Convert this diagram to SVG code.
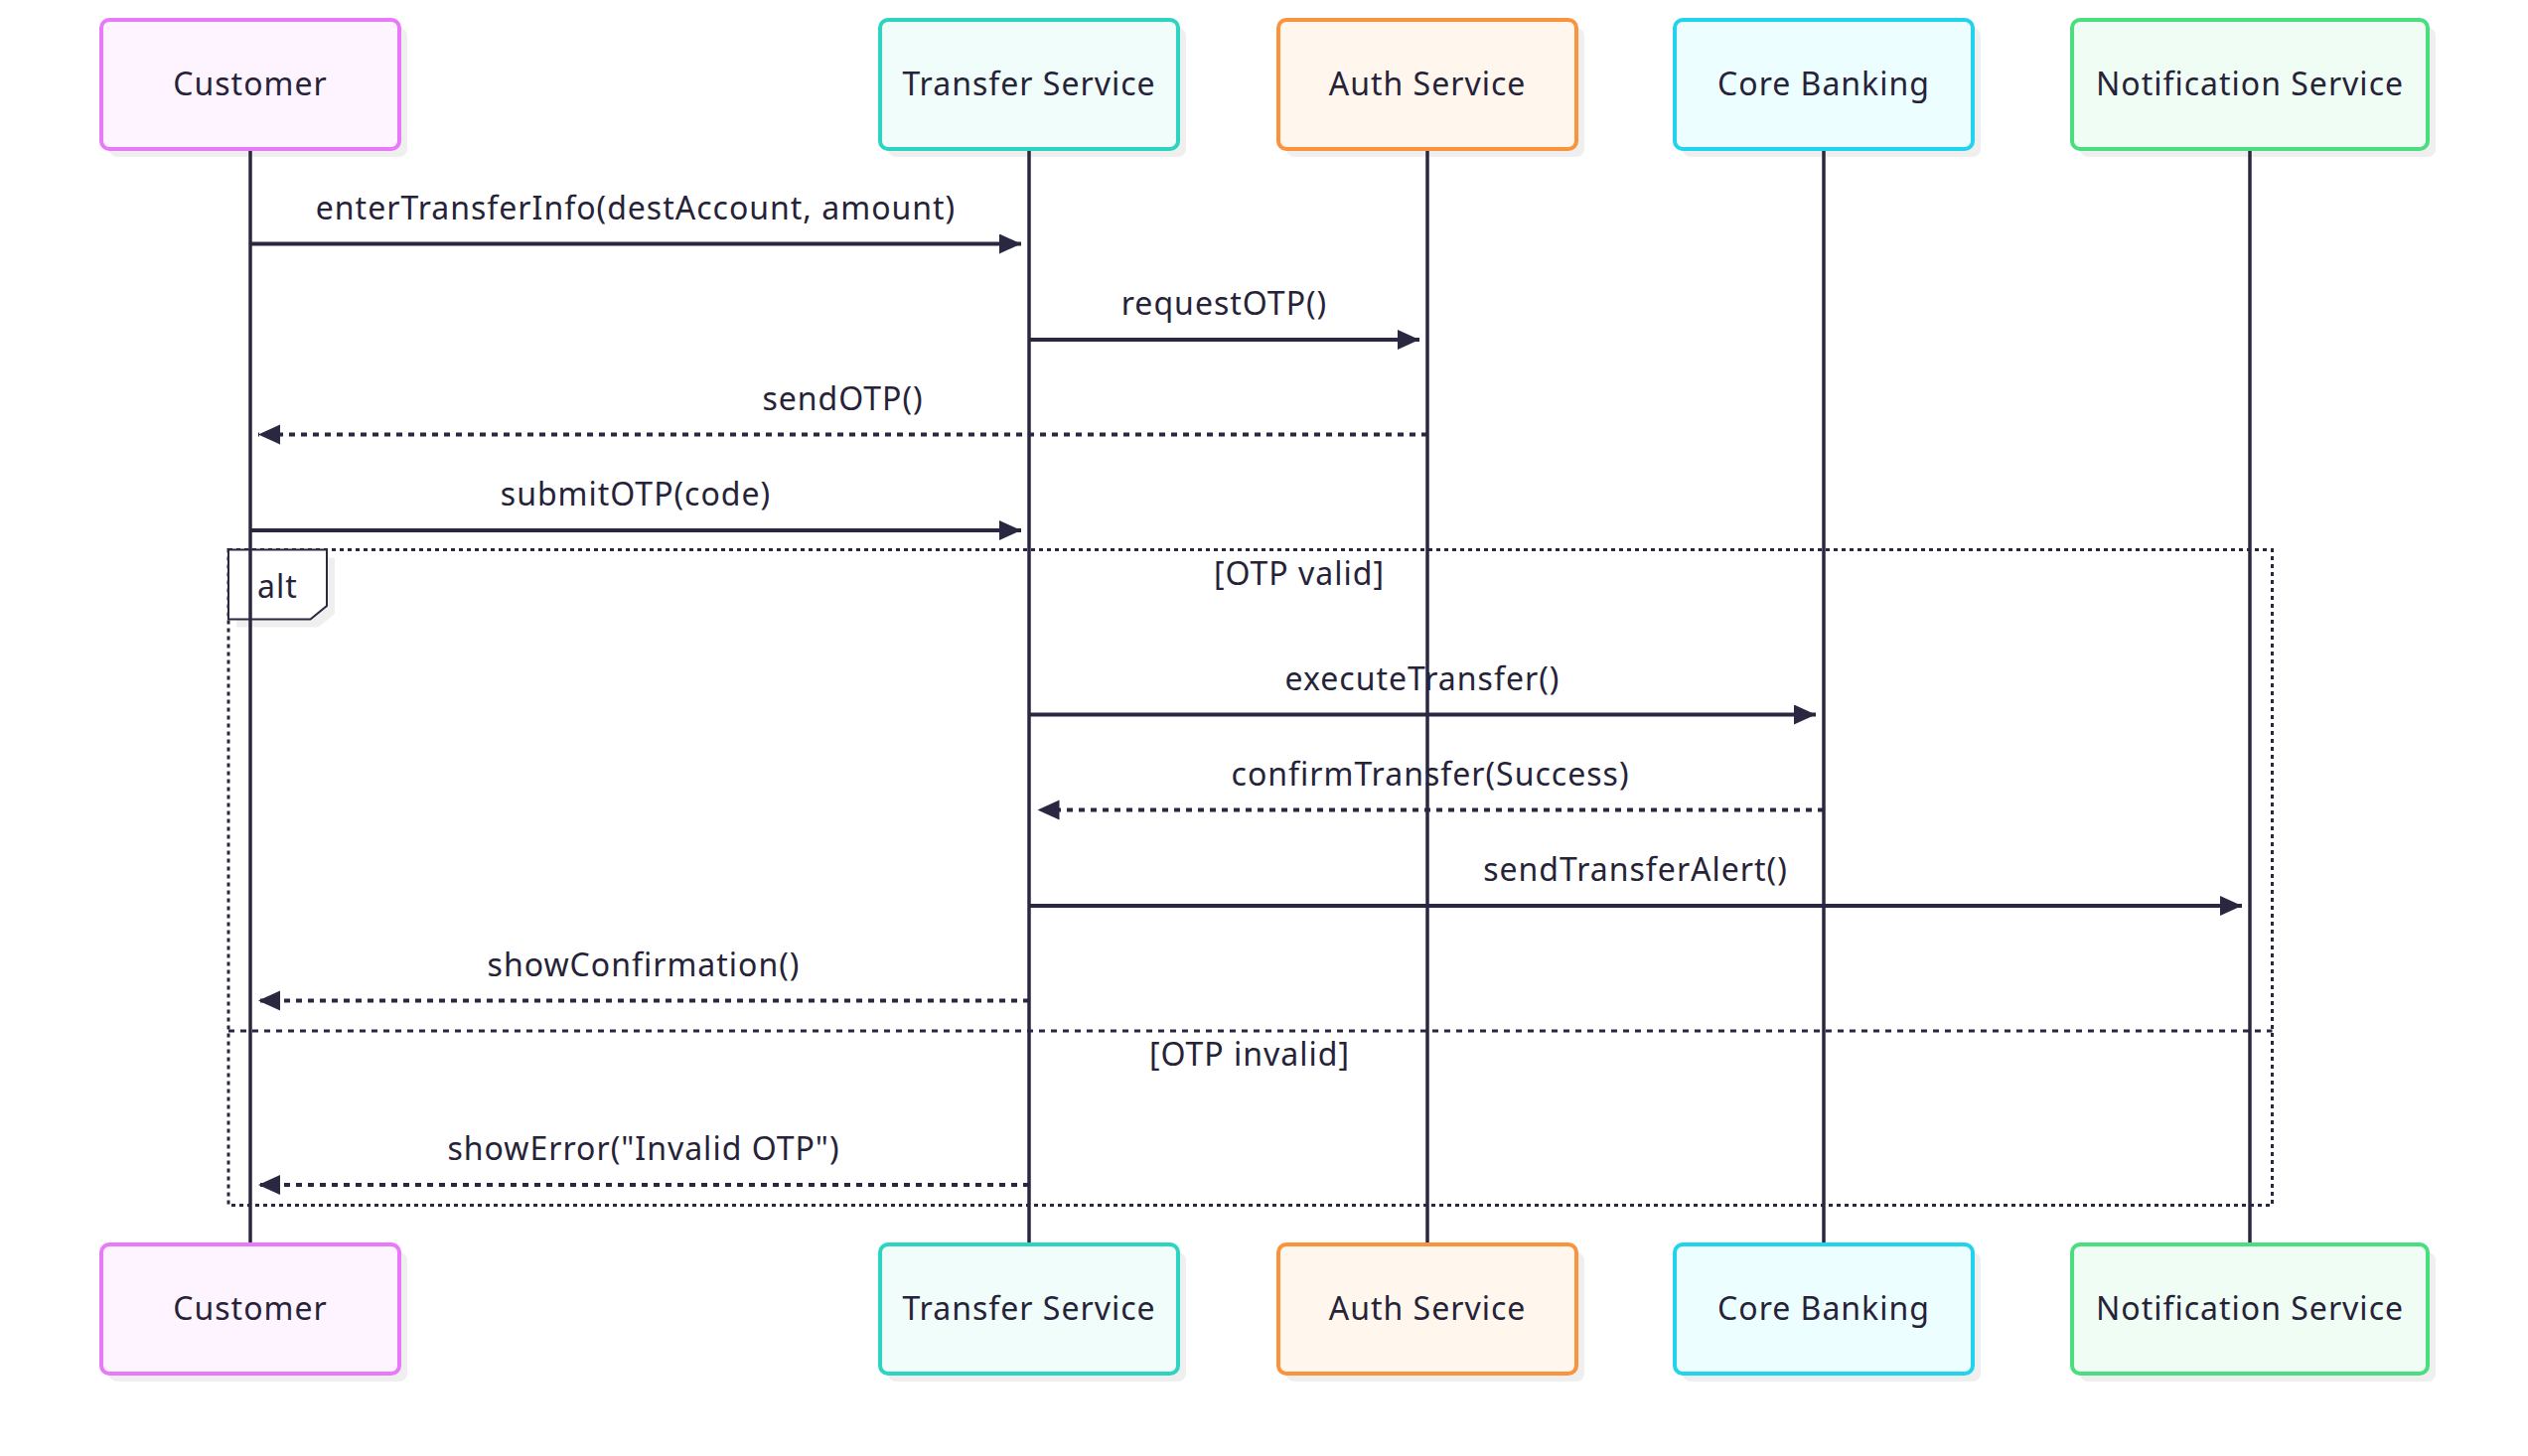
<svg xmlns="http://www.w3.org/2000/svg" width="2545" height="1466" viewBox="0 0 2545 1466">
<style>
.bg{fill:#ffffff}
.shadow{fill:#efefef}
.actor{stroke-width:4}
.atext{font-family:"Noto Sans","Open Sans",sans-serif;font-size:32px;letter-spacing:1px;fill:#262338;text-anchor:middle;dominant-baseline:central}
.life{stroke:#2a2840;stroke-width:3.5}
.msg{stroke:#2a2840;stroke-width:4;fill:none}
.dot{stroke-dasharray:6,6}
.mtext{font-family:"Noto Sans","Open Sans",sans-serif;font-size:32px;letter-spacing:1px;fill:#262338;text-anchor:middle}
.frame{stroke:#2a2840;stroke-width:3;fill:none;stroke-dasharray:4,4}
.divider{stroke:#2a2840;stroke-width:3;fill:none;stroke-dasharray:6,6}
.lbl{fill:#ffffff;stroke:#2a2840;stroke-width:2}
.c1{fill:#fdf4ff;stroke:#e879f9}
.c2{fill:#f0fdfa;stroke:#2dd4bf}
.c3{fill:#fff7ed;stroke:#fb923c}
.c4{fill:#ecfeff;stroke:#22d3ee}
.c5{fill:#f0fdf4;stroke:#4ade80}
</style>
<defs>
<marker id="arrow" markerUnits="userSpaceOnUse" markerWidth="24" markerHeight="22" refX="22" refY="10" orient="auto">
<path d="M0,0 L22,10 L0,20 z" fill="#2a2840"/>
</marker>
</defs>
<rect class="bg" x="0" y="0" width="2545" height="1466"/>

<g id="alt-frame">
<rect class="frame" x="230" y="553.5" width="2057.5" height="660"/>
<line class="divider" x1="230" y1="1038" x2="2287.5" y2="1038"/>
<polygon class="shadow" points="238,561.5 337,561.5 337,618 320.5,631.5 238,631.5"/>
<polygon class="lbl" points="230,553.5 329,553.5 329,610 312.5,623.5 230,623.5"/>
<text class="mtext" x="279.5" y="602">alt</text>
<text class="mtext" x="1308" y="589">[OTP valid]</text>
<text class="mtext" x="1258" y="1073">[OTP invalid]</text>
</g>

<g id="actor-customer-top">
<rect class="shadow" x="110" y="28" width="300" height="130" rx="8"/>
<rect class="actor c1" x="102" y="20" width="300" height="130" rx="8"/>
<text class="atext" x="252" y="83.5">Customer</text>
</g>
<g id="actor-transfer-top">
<rect class="shadow" x="894" y="28" width="300" height="130" rx="8"/>
<rect class="actor c2" x="886" y="20" width="300" height="130" rx="8"/>
<text class="atext" x="1036" y="83.5">Transfer Service</text>
</g>
<g id="actor-auth-top">
<rect class="shadow" x="1295" y="28" width="300" height="130" rx="8"/>
<rect class="actor c3" x="1287" y="20" width="300" height="130" rx="8"/>
<text class="atext" x="1437" y="83.5">Auth Service</text>
</g>
<g id="actor-core-top">
<rect class="shadow" x="1694" y="28" width="300" height="130" rx="8"/>
<rect class="actor c4" x="1686" y="20" width="300" height="130" rx="8"/>
<text class="atext" x="1836" y="83.5">Core Banking</text>
</g>
<g id="actor-notification-top">
<rect class="shadow" x="2094" y="28" width="358" height="130" rx="8"/>
<rect class="actor c5" x="2086" y="20" width="358" height="130" rx="8"/>
<text class="atext" x="2265" y="83.5">Notification Service</text>
</g>

<g id="actor-customer-bottom">
<rect class="shadow" x="110" y="1261" width="300" height="130" rx="8"/>
<rect class="actor c1" x="102" y="1253" width="300" height="130" rx="8"/>
<text class="atext" x="252" y="1316.5">Customer</text>
</g>
<g id="actor-transfer-bottom">
<rect class="shadow" x="894" y="1261" width="300" height="130" rx="8"/>
<rect class="actor c2" x="886" y="1253" width="300" height="130" rx="8"/>
<text class="atext" x="1036" y="1316.5">Transfer Service</text>
</g>
<g id="actor-auth-bottom">
<rect class="shadow" x="1295" y="1261" width="300" height="130" rx="8"/>
<rect class="actor c3" x="1287" y="1253" width="300" height="130" rx="8"/>
<text class="atext" x="1437" y="1316.5">Auth Service</text>
</g>
<g id="actor-core-bottom">
<rect class="shadow" x="1694" y="1261" width="300" height="130" rx="8"/>
<rect class="actor c4" x="1686" y="1253" width="300" height="130" rx="8"/>
<text class="atext" x="1836" y="1316.5">Core Banking</text>
</g>
<g id="actor-notification-bottom">
<rect class="shadow" x="2094" y="1261" width="358" height="130" rx="8"/>
<rect class="actor c5" x="2086" y="1253" width="358" height="130" rx="8"/>
<text class="atext" x="2265" y="1316.5">Notification Service</text>
</g>

<g id="lifelines">
<line class="life" x1="252" y1="152" x2="252" y2="1251"/>
<line class="life" x1="1036" y1="152" x2="1036" y2="1251"/>
<line class="life" x1="1437" y1="152" x2="1437" y2="1251"/>
<line class="life" x1="1836" y1="152" x2="1836" y2="1251"/>
<line class="life" x1="2265" y1="152" x2="2265" y2="1251"/>
</g>

<g id="connectors">
<line class="msg" x1="252" y1="245.5" x2="1028" y2="245.5" marker-end="url(#arrow)"/>
<text class="mtext" x="640" y="221">enterTransferInfo(destAccount, amount)</text>
<line class="msg" x1="1036" y1="342" x2="1429" y2="342" marker-end="url(#arrow)"/>
<text class="mtext" x="1232.5" y="317">requestOTP()</text>
<line class="msg dot" x1="1437" y1="437.5" x2="260" y2="437.5" marker-end="url(#arrow)"/>
<text class="mtext" x="848.5" y="412.5">sendOTP()</text>
<line class="msg" x1="252" y1="534" x2="1028" y2="534" marker-end="url(#arrow)"/>
<text class="mtext" x="640" y="509">submitOTP(code)</text>
<line class="msg" x1="1036" y1="719.5" x2="1828" y2="719.5" marker-end="url(#arrow)"/>
<text class="mtext" x="1432" y="694.5">executeTransfer()</text>
<line class="msg dot" x1="1836" y1="815.5" x2="1044.5" y2="815.5" marker-end="url(#arrow)"/>
<text class="mtext" x="1440" y="790.5">confirmTransfer(Success)</text>
<line class="msg" x1="1036" y1="912" x2="2257" y2="912" marker-end="url(#arrow)"/>
<text class="mtext" x="1646.5" y="887">sendTransferAlert()</text>
<line class="msg dot" x1="1036" y1="1007.5" x2="260" y2="1007.5" marker-end="url(#arrow)"/>
<text class="mtext" x="648" y="982.5">showConfirmation()</text>
<line class="msg dot" x1="1036" y1="1193" x2="260" y2="1193" marker-end="url(#arrow)"/>
<text class="mtext" x="648" y="1168">showError("Invalid OTP")</text>
</g>
</svg>
